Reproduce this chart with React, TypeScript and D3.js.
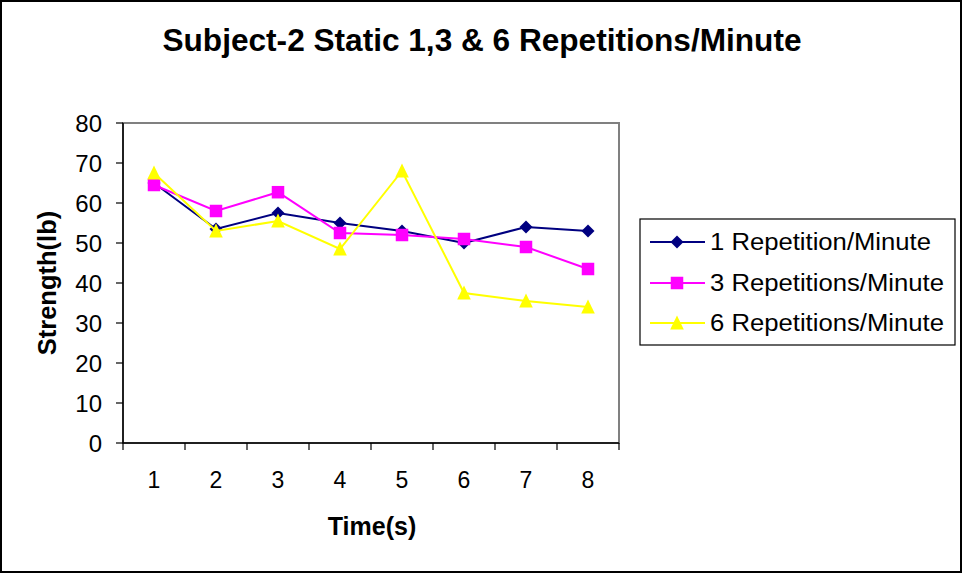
import React from "react";
import * as d3 from "d3";

const categories = ["1", "2", "3", "4", "5", "6", "7", "8"];
const yTicks = [0, 10, 20, 30, 40, 50, 60, 70, 80];
const seriesNames = ["1 Repetition/Minute", "3 Repetitions/Minute", "6 Repetitions/Minute"];
const oneRep = [65, 53.5, 57.5, 55, 53, 50, 54, 53];
const threeRep = [64.5, 58, 62.7, 52.5, 52, 51, 49, 43.5];
const sixRep = [67.5, 53, 55.5, 48.5, 68, 37.5, 35.5, 34];
const colors = ["#000080", "#FF00FF", "#FFFF00"];

const W = 962;
const H = 573;
const plot = { left: 123, right: 619, top: 123, bottom: 443 };
const FONT = "'Liberation Sans', Arial, sans-serif";

function Marker({ kind, x, y, color }: { kind: number; x: number; y: number; color: string }) {
  if (kind === 0) {
    const r = 6.5;
    return <path d={`M${x},${y - r}L${x + r},${y}L${x},${y + r}L${x - r},${y}Z`} fill={color} />;
  }
  if (kind === 1) {
    return <rect x={x - 6.25} y={y - 6.25} width={12.5} height={12.5} fill={color} />;
  }
  return <path d={`M${x},${y - 7.5}L${x + 6.8},${y + 6.5}L${x - 6.8},${y + 6.5}Z`} fill={color} />;
}

export default function App() {
  const x = d3.scaleBand<string>().domain(categories).range([plot.left, plot.right]);
  const y = d3.scaleLinear().domain([0, 80]).range([plot.bottom, plot.top]);
  const cx = (c: string) => (x(c) as number) + x.bandwidth() / 2;
  const data = [oneRep, threeRep, sixRep];
  const line = d3
    .line<number>()
    .x((_, i) => cx(categories[i]))
    .y((v) => y(v));

  const legendRows = [242, 283, 323];
  const legendWidths = [221, 234, 234];

  return (
    <svg
      width={W}
      height={H}
      style={{ position: "absolute", left: 0, top: 0, background: "#fff" }}
      fontFamily={FONT}
    >
      <rect x={1} y={1} width={W - 2} height={H - 2} fill="#fff" stroke="#000" strokeWidth={2} />
      <text
        x={482}
        y={51}
        textAnchor="middle"
        fontSize={31}
        fontWeight="bold"
        textLength={639}
        lengthAdjust="spacingAndGlyphs"
      >
        Subject-2 Static 1,3 &amp; 6 Repetitions/Minute
      </text>

      {/* plot frame */}
      <rect
        x={plot.left}
        y={plot.top}
        width={plot.right - plot.left}
        height={plot.bottom - plot.top}
        fill="#fff"
        stroke="#808080"
        strokeWidth={2}
      />
      <line x1={plot.left} x2={plot.left} y1={plot.top} y2={plot.bottom} stroke="#000" strokeWidth={1.5} />
      <line x1={plot.left} x2={plot.right} y1={plot.bottom} y2={plot.bottom} stroke="#000" strokeWidth={1.5} />

      {/* y axis */}
      {yTicks.map((t) => (
        <g key={t}>
          <line x1={plot.left - 7} x2={plot.left} y1={y(t)} y2={y(t)} stroke="#000" strokeWidth={1.2} />
          <text x={102} y={y(t) + 8.5} textAnchor="end" fontSize={24}>
            {t}
          </text>
        </g>
      ))}
      <text
        transform={`translate(56,${(plot.top + plot.bottom) / 2}) rotate(-90)`}
        textAnchor="middle"
        fontSize={25.5}
        fontWeight="bold"
      >
        Strength(lb)
      </text>

      {/* x axis */}
      {categories.concat(["end"]).map((c, i) => {
        const px = plot.left + i * x.bandwidth();
        return <line key={c} x1={px} x2={px} y1={plot.bottom} y2={plot.bottom + 7} stroke="#000" strokeWidth={1.2} />;
      })}
      {categories.map((c) => (
        <text key={c} x={cx(c)} y={488} textAnchor="middle" fontSize={23}>
          {c}
        </text>
      ))}
      <text x={372} y={535} textAnchor="middle" fontSize={25} fontWeight="bold">
        Time(s)
      </text>

      {/* series */}
      {data.map((vals, si) => (
        <g key={si}>
          <path d={line(vals) || ""} fill="none" stroke={colors[si]} strokeWidth={2} />
          {vals.map((v, i) => (
            <Marker key={i} kind={si} x={cx(categories[i])} y={y(v)} color={colors[si]} />
          ))}
        </g>
      ))}

      {/* legend */}
      <rect x={640} y={219} width={315} height={126} fill="#fff" stroke="#000" strokeWidth={1.2} />
      {seriesNames.map((name, si) => (
        <g key={name}>
          <line x1={650} x2={705} y1={legendRows[si]} y2={legendRows[si]} stroke={colors[si]} strokeWidth={2} />
          <Marker kind={si} x={677} y={legendRows[si]} color={colors[si]} />
          <text
            x={710}
            y={legendRows[si] + 8}
            fontSize={23}
            textLength={legendWidths[si]}
            lengthAdjust="spacingAndGlyphs"
          >
            {name}
          </text>
        </g>
      ))}
    </svg>
  );
}
